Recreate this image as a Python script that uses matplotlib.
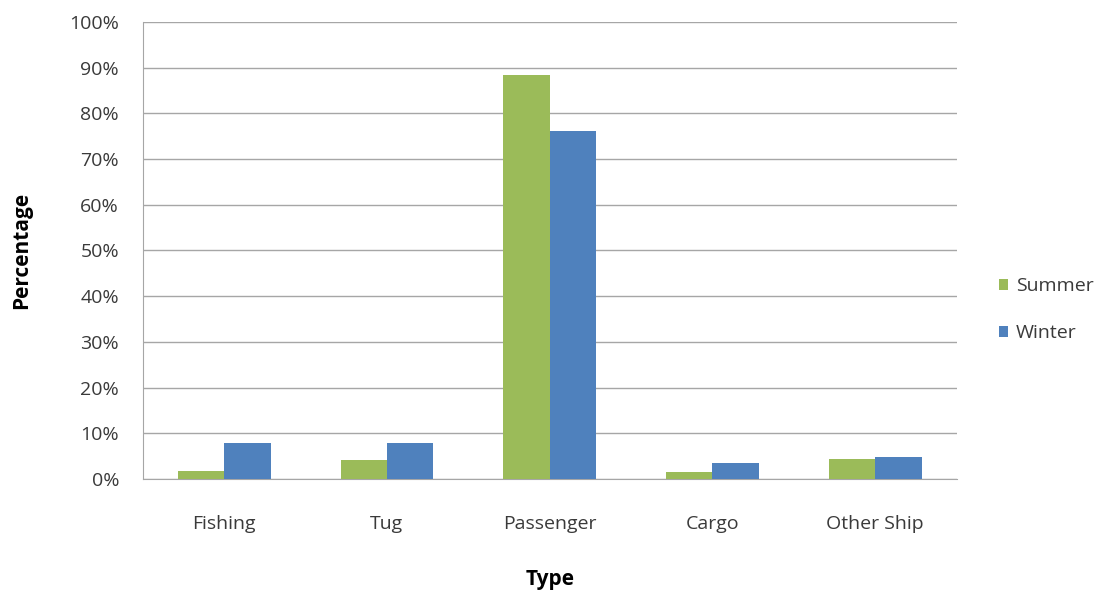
import numpy as np
import matplotlib.pyplot as plt
from matplotlib.ticker import PercentFormatter

categories = ['Fishing', 'Tug', 'Passenger', 'Cargo', 'Other Ship']
summer = [1.7, 4.1, 88.4, 1.5, 4.4]
winter = [7.9, 7.9, 76.2, 3.5, 4.8]

plt.rcParams['font.family'] = ['Open Sans', 'DejaVu Sans']

fig = plt.figure(figsize=(11.15, 5.92), dpi=100)
ax = fig.add_axes([0.128, 0.191, 0.730, 0.772])

x = np.arange(len(categories))
w = 0.285
ax.bar(x - w / 2, summer, w, color='#9BBB59', label='Summer', zorder=3)
ax.bar(x + w / 2, winter, w, color='#4F81BD', label='Winter', zorder=3)

ax.set_xlim(-0.5, len(categories) - 0.5)
ax.set_ylim(0, 100)
ax.set_yticks(np.arange(0, 101, 10))
ax.yaxis.set_major_formatter(PercentFormatter(decimals=0))
ax.set_xticks(x)
ax.set_xticklabels(categories)
ax.tick_params(axis='both', labelsize=14, colors='#3a3a3a', length=0)
ax.tick_params(axis='x', pad=26)
ax.tick_params(axis='y', pad=17)
ax.grid(axis='y', color='#a6a6a6', linewidth=1, zorder=0)

for s in ['top', 'right']:
    ax.spines[s].set_visible(False)
for s in ['left', 'bottom']:
    ax.spines[s].set_color('#a6a6a6')

ax.set_ylabel('Percentage', fontsize=15, fontweight='bold', labelpad=27)
ax.set_xlabel('Type', fontsize=15, fontweight='bold', labelpad=26)

ax.legend(loc='center left', bbox_to_anchor=(1.03, 0.37), frameon=False,
          fontsize=14, handlelength=0.5, handleheight=0.5, handletextpad=0.4,
          labelspacing=1.5, labelcolor='#3a3a3a')

fig.savefig('out.png', dpi=100)
